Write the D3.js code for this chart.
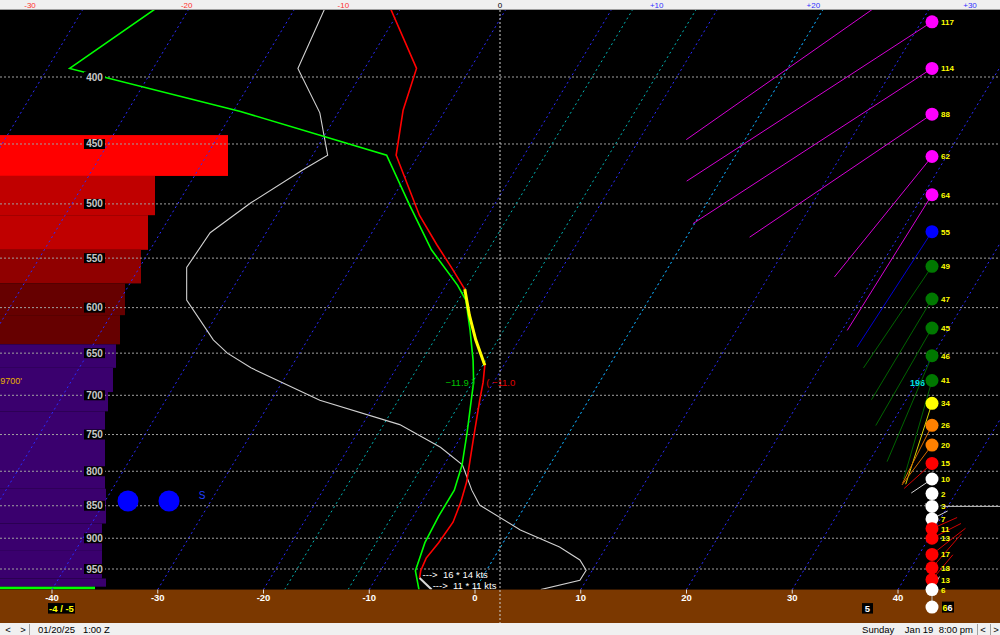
<!DOCTYPE html>
<html><head><meta charset="utf-8">
<script src="https://cdn.jsdelivr.net/npm/d3@7"></script>
<style>html,body{margin:0;padding:0;background:#000;overflow:hidden}svg{display:block}</style>
</head><body>
<svg id="c" width="1000" height="635"></svg>
<script>
// ---------------- DATA ----------------
const pressureLevels = [400,450,500,550,600,650,700,750,800,850,900,950];
const bottomTicks = [-40,-30,-20,-10,0,10,20,30,40];
const topTicks = [-30,-20,-10,0,10,20,30];
const isotherms = [-80,-70,-60,-50,-40,-30,-20,-10,0,10,20,30,40,50];
const specialIsotherms = [-18,-12,0];
const surfaceP = 985;

const tempP = [355,394,424,459,510,537,560,581,608,635,664,684,706,759,815,845,875,907,932,953,965,985];
const tempC = [-40.9,-35.1,-34.0,-32.1,-26.5,-23.2,-20.4,-18.0,-16.1,-14.1,-11.8,-11.0,-10.3,-8.6,-6.9,-6.3,-5.9,-6.1,-6.4,-6.2,-5.9,-4.1];
const dewP = [355,394,425,459,501,542,577,592,624,658,684,706,746,791,827,866,907,953,985];
const dewC = [-63.2,-67.9,-49.3,-33.0,-28.0,-23.4,-18.9,-17.3,-15.2,-13.2,-11.9,-11.1,-9.7,-8.3,-7.6,-7.6,-7.4,-6.7,-5.3];
const warmLayerP = [581,664];
const sfcLayerP = [965,985];

const traceP = [355,394,426,459,471,499,526,559,592,635,650,667,706,737,767,791,827,849,887,914,935,952,969,985];
const traceV = [-11.2,-12.9,-11.5,-11.0,-12.6,-15.9,-18.5,-20.0,-20.0,-18.3,-17.4,-15.9,-11.5,-6.4,-3.8,-2.4,-1.8,-1.3,1.3,3.8,5.1,5.5,5.1,2.6];

const barTopP = [443,476,510,542,575,608,640,667,696,720,825,877,919,966,980];
const barBotP = [476,510,542,575,608,640,667,696,720,825,877,919,966,980,985];
const barVal  = [91.2,62,59.2,56.4,50,48,46.4,45.2,43.2,42,42.4,40.8,40.8,42.4,38];
const barKind = ['r1','r2','r2','r3','r4','r4','p','p','p','p','p','p','p','p','g'];

const windP   = [330,363,394,427,460,492,525,558,591,622,653,682,710,738,764,789,811,832,851,870,885,900,926,948,968,985];
const windSpd = [120,117,114,88,62,64,55,49,47,45,46,41,34,26,20,15,10,2,3,7,11,13,17,18,13,6];
const windDir = [235,237,237,236,219,212,213,214,211,210,203,196,198,207,217,228,236,250,290,63,66,63,52,41,40,30];

const readoutP = 684;
const readoutDir = 196;
const stormMotion = ['16 * 14 kts','11 * 11 kts'];
const precipP = 843;
const precipIcons = ['dot','dot','S'];
const fzlText = "9700'";
const gustText = ['6','6'];
const boxText5 = '5';
const dateText = '01/20/25   1:00 Z';
const localText = 'Sunday    Jan 19  8:00 pm';

// ---------------- SCALES ----------------
const W = 1000, H = 635, statusY = 623, plotTop = 10;
const svg = d3.select('#c');
const y = d3.scaleLog().domain([400,950]).range([77,569]);
const yG = y(surfaceP);
const xT = d3.scaleLinear().domain([-40,40]).range([52,898]);
const skew = 0.6;
const sx = (T,p) => xT(T) + skew*(yG - y(p));
const xTop = d3.scaleLinear().domain([-30,30]).range([30,970]);
const barX = d3.scaleLinear().domain([0,100]).range([0,250]);
const windLen = d3.scaleLinear().domain([0,100]).range([0,250]);
const windX = 932;
const iconX = d3.scaleOrdinal().domain([0,1,2]).range([128,169,202]);
const barColor = d3.scaleOrdinal().domain(['r1','r2','r3','r4','p','g'])
  .range(['#ff0000','#c00000','#900000','#660000','#3a006e','#00ff00']);
const windColor = s => s <= 10 ? '#ffffff' : s < 20 ? '#ff0000' : s < 30 ? '#ff8000' : s < 40 ? '#ffff00' : s < 50 ? '#007800' : s < 60 ? '#0000ff' : '#ff00ff';
const font = 'Liberation Sans, Arial, sans-serif';

svg.append('rect').attr('width',W).attr('height',H).attr('fill','#000');
const defs = svg.append('defs');
defs.append('clipPath').attr('id','plot').append('rect').attr('x',0).attr('y',plotTop).attr('width',W).attr('height',yG-plotTop);
defs.append('clipPath').attr('id','wclip').append('rect').attr('x',0).attr('y',plotTop).attr('width',W).attr('height',statusY-plotTop);
const plot = svg.append('g').attr('clip-path','url(#plot)');

// bars
const bars = barTopP.map((t,i)=>({t, b:barBotP[i], v:barVal[i], k:barKind[i]}));
plot.selectAll('rect.bar').data(bars).join('rect').attr('class','bar')
  .attr('x',0).attr('y',d=>y(d.t)).attr('width',d=>barX(d.v)).attr('height',d=>y(d.b)-y(d.t))
  .attr('fill',d=>barColor(d.k));

// pressure grid
plot.selectAll('line.grid').data(pressureLevels).join('line').attr('class','grid')
  .attr('x1',0).attr('x2',W).attr('y1',d=>y(d)).attr('y2',d=>y(d))
  .attr('stroke','#a0a0a0').attr('stroke-dasharray','2,2').attr('stroke-width',1);

// isotherms
const pHi = 300;
plot.selectAll('line.iso').data(isotherms).join('line').attr('class','iso')
  .attr('x1',d=>sx(d,surfaceP)).attr('y1',yG).attr('x2',d=>sx(d,pHi)).attr('y2',y(pHi))
  .attr('stroke','#2a2aff').attr('stroke-dasharray','2,3').attr('stroke-width',1);
plot.selectAll('line.siso').data(specialIsotherms).join('line').attr('class','siso')
  .attr('x1',d=>sx(d,surfaceP)).attr('y1',yG).attr('x2',d=>sx(d,pHi)).attr('y2',y(pHi))
  .attr('stroke','#00b4b4').attr('stroke-dasharray','2,3').attr('stroke-width',1);

// pressure labels
const pl = svg.append('g');
pl.selectAll('rect').data(pressureLevels).join('rect')
  .attr('x',84).attr('y',d=>y(d)-5).attr('width',21).attr('height',10).attr('fill','#000');
pl.selectAll('text').data(pressureLevels).join('text')
  .attr('x',94.5).attr('y',d=>y(d)+3.5).attr('text-anchor','middle')
  .attr('font-family',font).attr('font-weight','bold').attr('font-size',10).attr('fill','#c8c8c8')
  .text(d=>d);

// trace (top scale)
const traceLine = d3.line().x(d=>xTop(d[1])).y(d=>y(d[0]));
plot.append('path').datum(traceP.map((p,i)=>[p,traceV[i]]))
  .attr('d',traceLine).attr('fill','none').attr('stroke','#d0d0d0').attr('stroke-width',1.1);

// profiles
const skewLine = d3.line().x(d=>sx(d[1],d[0])).y(d=>y(d[0]));
const dew = dewP.map((p,i)=>[p,dewC[i]]);
const temp = tempP.map((p,i)=>[p,tempC[i]]);
plot.append('path').datum(dew).attr('d',skewLine).attr('fill','none').attr('stroke','#00ff00').attr('stroke-width',1.6);
plot.append('path').datum(temp.filter(d=>d[0]<=sfcLayerP[0])).attr('d',skewLine).attr('fill','none').attr('stroke','#ff0000').attr('stroke-width',1.6);
plot.append('path').datum(temp.filter(d=>d[0]>=sfcLayerP[0])).attr('d',skewLine).attr('fill','none').attr('stroke','#d8d8d8').attr('stroke-width',2);
plot.append('path').datum(temp.filter(d=>d[0]>=warmLayerP[0]&&d[0]<=warmLayerP[1])).attr('d',skewLine).attr('fill','none').attr('stroke','#ffff00').attr('stroke-width',3);

// readout labels
const interp = (P,V,p)=>{ for(let i=0;i<P.length-1;i++){ if(p>=P[i]&&p<=P[i+1]){const f=(p-P[i])/(P[i+1]-P[i]);return V[i]+f*(V[i+1]-V[i]);} } return V[V.length-1]; };
const rT = interp(tempP,tempC,readoutP), rD = interp(dewP,dewC,readoutP);
const ry = y(readoutP);
svg.append('text').attr('x',sx(rD,readoutP)+1).attr('y',ry+3.5).attr('text-anchor','end')
  .attr('font-family',font).attr('font-size',9.5).attr('fill','#00c000').text(d3.format('.1f')(rD)+' )');
svg.append('text').attr('x',sx(rT,readoutP)+3).attr('y',ry+3.5).attr('text-anchor','start')
  .attr('font-family',font).attr('font-size',9.5).attr('fill','#e00000').text('( '+d3.format('.1f')(rT));
svg.append('text').attr('x',windX-7).attr('y',ry+3.5).attr('text-anchor','end')
  .attr('font-family',font).attr('font-weight','bold').attr('font-size',9).attr('fill','#00e0e0').text(readoutDir);

// storm motion labels
const smAnchor = [sx(interp(tempP,tempC,sfcLayerP[0]),sfcLayerP[0])+3, sx(tempC[tempC.length-1],surfaceP)+1];
const smY = [y(sfcLayerP[0])+0.5, yG-0.5];
stormMotion.forEach((t,i)=>{
  svg.append('text').attr('x',smAnchor[i]).attr('y',smY[i]).attr('font-family',font).attr('font-size',9.5)
    .attr('fill','#ffffff').attr('xml:space','preserve').text('--->  '+t);
});

// precip icons
precipIcons.forEach((k,i)=>{
  if(k==='dot') svg.append('circle').attr('cx',iconX(i)).attr('cy',y(precipP)).attr('r',10.5).attr('fill','#0000ff');
  else svg.append('text').attr('x',iconX(i)).attr('y',y(precipP)-2).attr('text-anchor','middle')
    .attr('font-family',font).attr('font-size',10).attr('fill','#2040ff').text(k);
});

// freezing level label
svg.append('text').attr('x',22).attr('y',y(readoutP)+2).attr('text-anchor','end')
  .attr('font-family',font).attr('font-size',9).attr('fill','#e8b000').text(fzlText);

// ground
svg.append('rect').attr('x',0).attr('y',yG).attr('width',W).attr('height',statusY-yG).attr('fill','#7b3800');
svg.append('line').attr('x1',xTop(0)).attr('x2',xTop(0)).attr('y1',plotTop).attr('y2',statusY)
  .attr('stroke','#d0d0d0').attr('stroke-dasharray','2,2');

// bottom ticks
const bt = svg.append('g');
bt.selectAll('line').data(bottomTicks).join('line').attr('x1',d=>xT(d)).attr('x2',d=>xT(d))
  .attr('y1',yG).attr('y2',yG+4).attr('stroke','#e0e0e0');
bt.selectAll('text').data(bottomTicks).join('text').attr('x',d=>xT(d)).attr('y',yG+11.5)
  .attr('text-anchor','middle').attr('font-family',font).attr('font-weight','bold').attr('font-size',9.5)
  .attr('fill','#ffffff').text(d=>d);

// surface T/Td box
svg.append('rect').attr('x',48).attr('y',yG+13.5).attr('width',27).attr('height',10.5).attr('fill','#000');
svg.append('text').attr('x',61.5).attr('y',yG+22).attr('text-anchor','middle').attr('font-family',font)
  .attr('font-weight','bold').attr('font-size',9.5).attr('fill','#ffff00').attr('xml:space','preserve')
  .text(Math.round(tempC[tempC.length-1])+' / '+Math.round(dewC[dewC.length-1]));
svg.append('rect').attr('x',862).attr('y',yG+13.5).attr('width',11).attr('height',10.5).attr('fill','#000');
svg.append('text').attr('x',867.5).attr('y',yG+22).attr('text-anchor','middle').attr('font-family',font)
  .attr('font-weight','bold').attr('font-size',9.5).attr('fill','#ffffff').text(boxText5);

// winds
const wg = svg.append('g').attr('clip-path','url(#wclip)');
const winds = windP.map((p,i)=>({p, s:windSpd[i], d:windDir[i]}));
const gustY = yG + 17.5;
wg.append('line').attr('x1',windX).attr('x2',windX).attr('y1',y(surfaceP)).attr('y2',gustY).attr('stroke','#c0c0c0');
wg.selectAll('line.w').data(winds).join('line').attr('class','w')
  .attr('x1',windX).attr('y1',d=>y(d.p))
  .attr('x2',d=>windX+Math.sin(d.d*Math.PI/180)*windLen(d.s))
  .attr('y2',d=>y(d.p)-Math.cos(d.d*Math.PI/180)*windLen(d.s))
  .attr('stroke',d=>d3.color(windColor(d.s)).darker(0.5)).attr('stroke-width',1);
wg.selectAll('circle.w').data(winds).join('circle').attr('class','w')
  .attr('cx',windX).attr('cy',d=>y(d.p)).attr('r',6.5).attr('fill',d=>windColor(d.s));
wg.selectAll('text.w').data(winds.filter(d=>y(d.p)>plotTop+5)).join('text').attr('class','w')
  .attr('x',windX+9).attr('y',d=>y(d.p)+3).attr('font-family',font).attr('font-weight','bold')
  .attr('font-size',8).attr('fill','#ffff00').text(d=>d.s);
wg.append('circle').attr('cx',windX).attr('cy',gustY).attr('r',6.5).attr('fill','#ffffff');
wg.append('rect').attr('x',windX+10).attr('y',gustY-5.5).attr('width',12).attr('height',11).attr('fill','#000');
const gt = wg.append('text').attr('x',windX+10.5).attr('y',gustY+3.5).attr('font-family',font).attr('font-weight','bold').attr('font-size',9);
gt.append('tspan').attr('fill','#ffff00').text(gustText[0]);
gt.append('tspan').attr('fill','#ffffff').text(gustText[1]);
wg.append('line').attr('x1',windX+11).attr('x2',W).attr('y1',y(851)).attr('y2',y(851)).attr('stroke','#c0c0c0');

// header
svg.append('rect').attr('x',0).attr('y',0).attr('width',W).attr('height',plotTop-0.5).attr('fill','#f0f0f0');
svg.append('line').attr('x1',0).attr('x2',W).attr('y1',plotTop-0.5).attr('y2',plotTop-0.5).attr('stroke','#a0a0a0');
svg.selectAll('text.top').data(topTicks).join('text').attr('class','top')
  .attr('x',d=>xTop(d)).attr('y',7.5).attr('text-anchor','middle').attr('font-family',font).attr('font-size',8)
  .attr('fill',d=>d<0?'#ff3030':d>0?'#3030ff':'#000').text(d=>d>0?'+'+d:d);

// status bar
svg.append('rect').attr('x',0).attr('y',statusY).attr('width',W).attr('height',H-statusY).attr('fill','#f0f0f0');
[29,977,990].forEach(x=>svg.append('line').attr('x1',x+0.5).attr('x2',x+0.5).attr('y1',statusY+1).attr('y2',H).attr('stroke','#a0a0a0'));
const st = (x,t,anchor)=>svg.append('text').attr('x',x).attr('y',H-2.5).attr('text-anchor',anchor||'start')
  .attr('font-family',font).attr('font-size',9.5).attr('fill','#000').attr('xml:space','preserve').text(t);
st(8,'<','middle'); st(23,'>','middle'); st(38,dateText); st(973,localText,'end'); st(983,'<','middle'); st(996,'>','middle');
</script>
</body></html>
